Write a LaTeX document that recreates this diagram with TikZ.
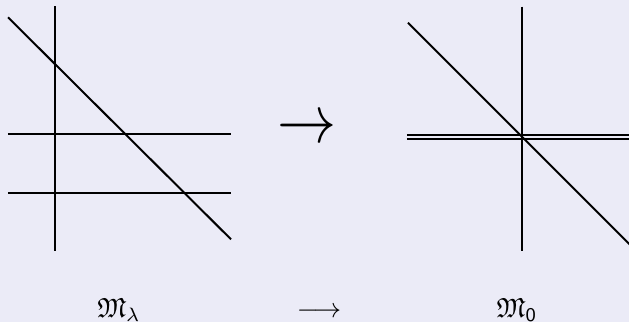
\documentclass[tikz,border=0pt]{standalone}
\usepackage{amssymb}
\definecolor{bgcol}{rgb}{0.92,0.92,0.97}
\tikzset{
  curve/.style={line width=1pt, black},
  lbl/.style={anchor=base, inner sep=0pt, outer sep=0pt},
}
\begin{document}
\begin{tikzpicture}[x=0.5pt,y=-0.5pt]
\useasboundingbox (0,0) rectangle (629,322);
\fill[bgcol] (0,0) rectangle (629,322);
\begin{scope}
\clip (0,0) rectangle (629,322);
% left configuration
\draw[curve] (55,6) -- (55,251);
\draw[curve] (8,17.3) -- (231,239.3);
\draw[curve] (8,134.3) -- (231,134.3);
\draw[curve] (8,193) -- (231,193);
% right configuration
\draw[curve] (522,6.7) -- (522,250.7);
\draw[curve] (408,22.7) -- (640,254.7);
\draw[curve] (407,135) -- (640,135);
\draw[curve] (407,139.3) -- (640,139.3);
\end{scope}
% big arrow
\node[inner sep=0pt] (bigarrow) at (307,130) {\scalebox{2.95}[3.4]{$\rightarrow$}};
% labels
\node[lbl] (mlambda) at (119,317) {\scalebox{1.38}{$\mathfrak{M}_\lambda$}};
\node[lbl] (longarrow) at (319,317) {\scalebox{1.38}{$\longrightarrow$}};
\node[lbl] (mzero) at (517,317) {\scalebox{1.38}{$\mathfrak{M}_{\mathsf{0}}$}};
\end{tikzpicture}
\end{document}
